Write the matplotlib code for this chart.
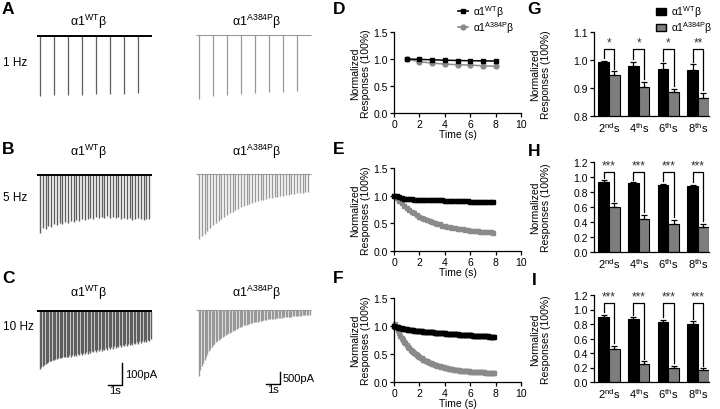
import numpy as np
import matplotlib.pyplot as plt
from matplotlib.patches import Patch
from matplotlib.lines import Line2D
from matplotlib.ticker import FormatStrFormatter

plt.rcParams["font.family"] = ["Liberation Sans", "DejaVu Sans"]
plt.rcParams["mathtext.fontset"] = "custom"
plt.rcParams["mathtext.rm"] = "Liberation Sans"
plt.rcParams["axes.linewidth"] = 0.9

ANCHO, ALTO = 720, 410

etiqueta_wt = r"α1$^{\mathrm{WT}}$β"
etiqueta_mut = r"α1$^{\mathrm{A384P}}$β"
frecuencias = ["1 Hz", "5 Hz", "10 Hz"]
pulsos_por_s = [1, 5, 10]

# picos de corriente (pA) de cada pulso, trazos representativos
pico_wt_1hz = [273, 268, 268, 268, 264, 264, 264, 259]
pico_mut_1hz = [2670, 2540, 2500, 2460, 2420, 2380, 2380, 2340]
pico_wt_5hz = [264, 241, 246, 232, 237, 223, 228, 218, 223, 214,
               218, 209, 214, 205, 209, 200, 205, 200, 196, 200,
               191, 196, 191, 196, 187, 196, 191, 196, 191, 200,
               196, 200, 196, 205, 200, 196, 200, 205, 200, 200]
pico_mut_5hz = [2710, 2585, 2500, 2375, 2250, 2125, 2045, 1960, 1875, 1795,
                1710, 1625, 1585, 1500, 1460, 1375, 1335, 1295, 1250, 1210,
                1170, 1125, 1085, 1085, 1040, 1000, 1000, 960, 960, 915,
                915, 875, 875, 835, 835, 790, 790, 790, 750, 750]
pico_wt_10hz = [264, 255, 250, 246, 241, 237, 232, 228, 228, 223,
                223, 218, 218, 214, 214, 214, 209, 209, 209, 209,
                211, 202, 209, 199, 206, 197, 204, 194, 201, 192,
                199, 189, 196, 187, 194, 184, 191, 182, 188, 179,
                186, 177, 183, 174, 181, 172, 178, 169, 176, 166,
                173, 164, 171, 161, 168, 159, 166, 156, 163, 154,
                160, 151, 158, 149, 155, 146, 153, 144, 150, 141,
                148, 138, 145, 136, 143, 133, 140, 131, 138, 128]
pico_mut_10hz = [2750, 2500, 2335, 2210, 2085, 1960, 1835, 1710, 1625, 1545,
                 1460, 1420, 1335, 1295, 1250, 1210, 1170, 1125, 1085, 1040,
                 1000, 960, 940, 915, 875, 835, 815, 790, 750, 710,
                 690, 665, 645, 625, 605, 585, 565, 540, 535, 520,
                 500, 500, 480, 460, 460, 440, 415, 415, 410, 395,
                 390, 375, 375, 365, 355, 345, 335, 335, 325, 315,
                 310, 300, 290, 290, 290, 285, 275, 265, 260, 250,
                 250, 240, 235, 230, 225, 220, 215, 210, 210, 210]

# respuestas normalizadas por pulso
norm_wt_1hz = [1.00, 0.993, 0.985, 0.978, 0.972, 0.968, 0.965, 0.963]
norm_mut_1hz = [1.00, 0.948, 0.925, 0.905, 0.895, 0.887, 0.875, 0.866]
norm_wt_5hz = [1.00, 0.985, 0.97, 0.958, 0.948, 0.94, 0.935, 0.932, 0.93, 0.93,
               0.929, 0.928, 0.927, 0.925, 0.923, 0.921, 0.919, 0.917, 0.915, 0.913,
               0.912, 0.910, 0.908, 0.906, 0.905, 0.903, 0.901, 0.899, 0.898, 0.896,
               0.894, 0.892, 0.891, 0.889, 0.888, 0.886, 0.885, 0.883, 0.882, 0.880]
norm_mut_5hz = [1.00, 0.96, 0.91, 0.87, 0.82, 0.78, 0.75, 0.71, 0.68, 0.65,
                0.62, 0.60, 0.58, 0.56, 0.54, 0.52, 0.51, 0.49, 0.48, 0.46,
                0.45, 0.44, 0.43, 0.42, 0.41, 0.40, 0.395, 0.39, 0.38, 0.375,
                0.37, 0.365, 0.36, 0.355, 0.35, 0.35, 0.345, 0.34, 0.335, 0.33]
norm_wt_10hz = [1.00, 0.99, 0.985, 0.978, 0.972, 0.966, 0.96, 0.955, 0.95, 0.945,
                0.941, 0.937, 0.933, 0.929, 0.925, 0.922, 0.918, 0.915, 0.912, 0.909,
                0.906, 0.904, 0.902, 0.900, 0.898, 0.896, 0.894, 0.892, 0.890, 0.888,
                0.886, 0.884, 0.882, 0.880, 0.878, 0.876, 0.874, 0.872, 0.870, 0.868,
                0.867, 0.865, 0.863, 0.861, 0.860, 0.858, 0.856, 0.855, 0.853, 0.851,
                0.850, 0.848, 0.846, 0.845, 0.843, 0.841, 0.840, 0.838, 0.836, 0.835,
                0.833, 0.832, 0.830, 0.829, 0.827, 0.826, 0.824, 0.823, 0.821, 0.820,
                0.818, 0.817, 0.816, 0.814, 0.813, 0.812, 0.810, 0.809, 0.808, 0.806]
norm_mut_10hz = [1.00, 1.03, 0.98, 0.93, 0.88, 0.83, 0.79, 0.75, 0.72, 0.69,
                 0.66, 0.63, 0.60, 0.58, 0.56, 0.54, 0.52, 0.50, 0.48, 0.46,
                 0.45, 0.43, 0.42, 0.40, 0.39, 0.38, 0.37, 0.355, 0.345, 0.335,
                 0.325, 0.316, 0.308, 0.300, 0.292, 0.285, 0.278, 0.271, 0.265, 0.259,
                 0.253, 0.248, 0.243, 0.238, 0.234, 0.229, 0.225, 0.222, 0.218, 0.214,
                 0.211, 0.208, 0.205, 0.202, 0.199, 0.197, 0.195, 0.192, 0.190, 0.188,
                 0.186, 0.184, 0.182, 0.181, 0.179, 0.178, 0.176, 0.175, 0.174, 0.172,
                 0.171, 0.170, 0.169, 0.168, 0.167, 0.166, 0.166, 0.165, 0.164, 0.163]
sem_wt = [0.008, 0.012, 0.025]
sem_mut = [0.010, 0.035, 0.022]

# barras: 2do, 4to, 6to y 8vo segundo
segundos = [r"2$^{\mathrm{nd}}$s", r"4$^{\mathrm{th}}$s", r"6$^{\mathrm{th}}$s", r"8$^{\mathrm{th}}$s"]
media_wt_1hz = [0.993, 0.978, 0.968, 0.963]
error_wt_1hz = [0.005, 0.015, 0.021, 0.022]
media_mut_1hz = [0.948, 0.905, 0.887, 0.866]
error_mut_1hz = [0.011, 0.018, 0.011, 0.017]
media_wt_5hz = [0.94, 0.915, 0.89, 0.88]
error_wt_5hz = [0.015, 0.015, 0.02, 0.02]
media_mut_5hz = [0.60, 0.44, 0.37, 0.33]
error_mut_5hz = [0.05, 0.06, 0.06, 0.05]
media_wt_10hz = [0.90, 0.865, 0.83, 0.805]
error_wt_10hz = [0.03, 0.03, 0.03, 0.03]
media_mut_10hz = [0.45, 0.25, 0.19, 0.165]
error_mut_10hz = [0.05, 0.035, 0.03, 0.025]
estrellas_1hz = ["*", "*", "*", "**"]
estrellas_5hz = ["***"] * 4
estrellas_10hz = ["***"] * 4

GRIS = "#8a8a8a"
GRIS_BARRA = "#7d7d7d"
PX_S = 14.0   # pixeles por segundo en los trazos

fig = plt.figure(figsize=(ANCHO / 100, ALTO / 100), dpi=100)


def caja(x0, y0, x1, y1):
    return [x0 / ANCHO, 1 - y1 / ALTO, (x1 - x0) / ANCHO, (y1 - y0) / ALTO]


def texto(x, y, s, **kw):
    return fig.text(x / ANCHO, 1 - y / ALTO, s, **kw)


def trazo(x_t0, y_base, picos, frec, pa_px, color, color_base, lw_base, lw_pico):
    izq = x_t0 - 0.3 * PX_S
    ax = fig.add_axes(caja(izq, y_base - 4, izq + 9 * PX_S, y_base + 71))
    t = np.arange(len(picos)) / frec
    ax.vlines(t, -np.array(picos), 0, color=color, lw=lw_pico)
    ax.hlines(0, -0.2, 8.0, color=color_base, lw=lw_base)
    ax.set_xlim(-0.3, 8.7)
    ax.set_ylim(-71 * pa_px, 4 * pa_px)
    ax.axis("off")
    return ax


def escala(ax, t_esq, y_esq, alto_pa, etiqueta):
    ax.plot([t_esq - 1, t_esq, t_esq], [y_esq, y_esq, y_esq + alto_pa],
            color="black", lw=1.0, clip_on=False)
    ax.text(t_esq + 0.2, y_esq + alto_pa / 2, etiqueta, fontsize=8, va="center", ha="left")
    ax.text(t_esq - 0.5, y_esq, "1s", fontsize=8, va="top", ha="center")


def estilo(ax):
    for lado in ["top", "right"]:
        ax.spines[lado].set_visible(False)
    ax.tick_params(labelsize=7.5, length=3, width=0.9, pad=1.5)


def panel_linea(y0, y1, wt, mut, s_wt, s_mut, frec, t0, ms, marca_mut):
    ax = fig.add_axes(caja(394, y0, 521, y1))
    t_wt = t0 + np.arange(len(wt)) / frec
    t_mut = t0 + np.arange(len(mut)) / frec
    ax.errorbar(t_mut, mut, yerr=s_mut, color=GRIS, marker=marca_mut, ms=ms, lw=1.1,
                elinewidth=0.6, capsize=0, clip_on=False)
    ax.errorbar(t_wt, wt, yerr=s_wt, color="black", marker="s", ms=ms, lw=1.1,
                elinewidth=0.6, capsize=0, clip_on=False)
    ax.set_xlim(0, 10)
    ax.set_ylim(0, 1.5)
    ax.set_xticks([0, 2, 4, 6, 8, 10])
    ax.set_yticks([0, 0.5, 1.0, 1.5])
    ax.yaxis.set_major_formatter(FormatStrFormatter("%.1f"))
    estilo(ax)
    ax.set_xlabel("Time (s)", fontsize=7.5, labelpad=0)
    ax.set_ylabel("Normalized\nResponses (100%)", fontsize=7.5, linespacing=1.15)
    ax.yaxis.set_label_coords(-0.18, 0.5)
    return ax


def panel_barras(y0, y1, wt, e_wt, mut, e_mut, ylim, yticks, tope, estrellas):
    ax = fig.add_axes(caja(594, y0, 709, y1))
    x = np.arange(1, 5)
    w = 0.36
    ax.bar(x - w / 2, wt, w, color="black", edgecolor="black", lw=0.8)
    ax.bar(x + w / 2, mut, w, color=GRIS_BARRA, edgecolor="black", lw=0.8)
    ax.errorbar(x - w / 2, wt, yerr=[np.zeros(4), e_wt], fmt="none", ecolor="black",
                elinewidth=0.9, capsize=2.5, capthick=0.9)
    ax.errorbar(x + w / 2, mut, yerr=[np.zeros(4), e_mut], fmt="none", ecolor="black",
                elinewidth=0.9, capsize=2.5, capthick=0.9)
    rango = ylim[1] - ylim[0]
    for i in range(4):
        xa, xb = x[i] - w / 2, x[i] + w / 2
        ya = wt[i] + e_wt[i] + 0.03 * rango
        yb = mut[i] + e_mut[i] + 0.03 * rango
        ax.plot([xa, xa, xb, xb], [ya, tope, tope, yb], color="black", lw=0.9, clip_on=False)
        ax.text(x[i], tope + 0.005 * rango, estrellas[i], ha="center", va="bottom",
                fontsize=8.5, color="#333333")
    ax.set_xlim(0.49, 4.37)
    ax.set_ylim(*ylim)
    ax.set_yticks(yticks)
    ax.yaxis.set_major_formatter(FormatStrFormatter("%.1f"))
    ax.set_xticks(x)
    ax.set_xticklabels(segundos, fontsize=8)
    estilo(ax)
    ax.tick_params(axis="x", length=0, pad=3, labelsize=8)
    ax.set_ylabel("Normalized\nResponses (100%)", fontsize=7.5, linespacing=1.15)
    ax.yaxis.set_label_coords(-0.374, 0.5)
    return ax


# ---- trazos A, B, C ----
picos_wt = [pico_wt_1hz, pico_wt_5hz, pico_wt_10hz]
picos_mut = [pico_mut_1hz, pico_mut_5hz, pico_mut_10hz]
bases = [(37, 36), (176, 175), (312, 311)]
titulos_y = [22, 152, 293]
frec_y = [63, 198, 327]
grosor_pico = [0.9, 1.0, 1.0]
ejes_c = []
for k in range(3):
    ax_wt = trazo(40, bases[k][0], picos_wt[k], pulsos_por_s[k], 4.55, "#5e5e5e", "black", 1.4,
                  grosor_pico[k])
    ax_mut = trazo(199, bases[k][1], picos_mut[k], pulsos_por_s[k], 41.7, "#999999", "#999999",
                   0.8, grosor_pico[k])
    texto(88, titulos_y[k], etiqueta_wt, fontsize=9, ha="center", va="center")
    texto(257, titulos_y[k], etiqueta_mut, fontsize=9, ha="center", va="center")
    texto(3, frec_y[k], frecuencias[k], fontsize=8.5, ha="left", va="center")
    ejes_c = [ax_wt, ax_mut]

escala(ejes_c[0], 5.86, -337, 100, "100pA")
escala(ejes_c[1], 5.79, -3086, 500, "500pA")

# ---- D, E, F ----
panel_linea(33, 114, norm_wt_1hz, norm_mut_1hz, sem_wt[0], sem_mut[0], 1, 1, 3.5, "o")
panel_linea(169, 252, norm_wt_5hz, norm_mut_5hz, sem_wt[1], sem_mut[1], 5, 0, 2.5, "s")
panel_linea(299, 383, norm_wt_10hz, norm_mut_10hz, sem_wt[2], sem_mut[2], 10, 0, 2.3, "s")

fig.legend(handles=[Line2D([], [], color="black", marker="s", ms=3.5, lw=1.2),
                    Line2D([], [], color=GRIS, marker="o", ms=3.5, lw=1.2)],
           labels=[etiqueta_wt, etiqueta_mut], loc="upper left",
           bbox_to_anchor=(458 / ANCHO, 1 - 4 / ALTO), frameon=False, fontsize=7.5,
           handlelength=1.0, handletextpad=0.4, labelspacing=0.05, borderpad=0,
           borderaxespad=0)

# ---- G, H, I ----
panel_barras(33, 117, media_wt_1hz, error_wt_1hz, media_mut_1hz, error_mut_1hz,
             (0.8, 1.1), [0.8, 0.9, 1.0, 1.1], 1.04, estrellas_1hz)
panel_barras(163, 253, media_wt_5hz, error_wt_5hz, media_mut_5hz, error_mut_5hz,
             (0.0, 1.2), [0, 0.2, 0.4, 0.6, 0.8, 1.0, 1.2], 1.07, estrellas_5hz)
panel_barras(296, 383, media_wt_10hz, error_wt_10hz, media_mut_10hz, error_mut_10hz,
             (0.0, 1.2), [0, 0.2, 0.4, 0.6, 0.8, 1.0, 1.2], 1.09, estrellas_10hz)

fig.legend(handles=[Patch(fc="black", ec="black"), Patch(fc=GRIS_BARRA, ec="black")],
           labels=[etiqueta_wt, etiqueta_mut], loc="upper left",
           bbox_to_anchor=(656 / ANCHO, 1 - 4 / ALTO), frameon=False, fontsize=7.5,
           handlelength=1.0, handleheight=0.7, handletextpad=0.4, labelspacing=0.05,
           borderpad=0, borderaxespad=0)

# letras de panel
letras = {"A": (2, 2), "B": (2, 142), "C": (2, 271), "D": (333, 2), "E": (333, 142),
          "F": (333, 271), "G": (527, 2), "H": (528, 144), "I": (532, 273)}
for letra, (lx, ly) in letras.items():
    texto(lx, ly, letra, fontsize=12.5, fontweight="bold", ha="left", va="top")

fig.savefig("out.png", dpi=100)
